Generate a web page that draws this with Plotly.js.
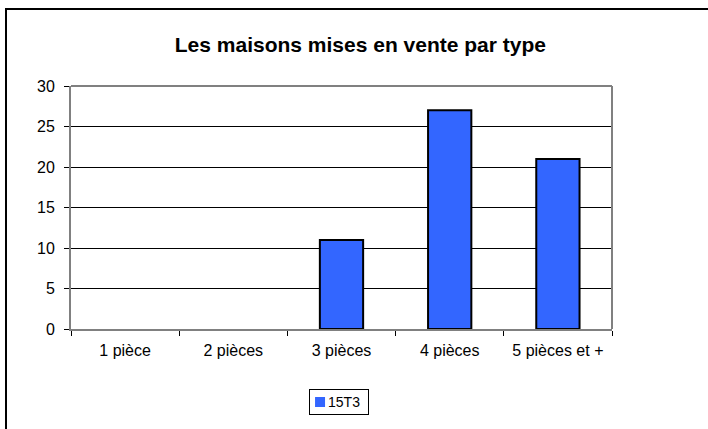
<!DOCTYPE html>
<html>
<head>
<meta charset="utf-8">
<script src="https://cdn.plot.ly/plotly-3.0.1.min.js"></script>
<style>
html,body{margin:0;padding:0;background:#fff;}
#wrap{position:relative;width:708px;height:429px;overflow:hidden;}
#chart{width:708px;height:429px;}
#frame{position:absolute;left:5px;top:8px;width:760px;height:460px;border:2px solid #000;pointer-events:none;box-sizing:border-box;}
</style>
</head>
<body>
<div id="wrap">
<div id="chart"></div>
<div id="frame"></div>
</div>
<script>
const categories = ["1 pièce", "2 pièces", "3 pièces", "4 pièces", "5 pièces et +"];
const values15T3 = [0, 0, 11, 27, 21];
const yTicks = [0, 5, 10, 15, 20, 25, 30];
const seriesName = "15T3";

const trace = {
  type: "bar",
  x: categories,
  y: values15T3,
  name: seriesName,
  width: 0.4,
  marker: {color: "#3366FF", line: {color: "#000", width: values15T3.map(v => v > 0 ? 2 : 0)}},
  showlegend: true,
  hoverinfo: "x+y"
};

const layout = {
  width: 708, height: 429,
  margin: {l: 71, r: 96, t: 86, b: 100, autoexpand: false},
  paper_bgcolor: "#fff",
  plot_bgcolor: "#fff",
  font: {family: "Liberation Sans, Arial, sans-serif", size: 16, color: "#000"},
  title: {text: "<b>Les maisons mises en vente par type</b>", x: 0.509, xanchor: "center", y: 0.895, yanchor: "middle",
          font: {family: "Liberation Sans, Arial, sans-serif", size: 21, color: "#000"}},
  xaxis: {
    type: "category",
    automargin: false,
    tickson: "boundaries",
    ticks: "outside", ticklen: 5, tickcolor: "#000", tickwidth: 1,
    showline: true, linecolor: "#808080", linewidth: 2,
    showgrid: false,
    tickfont: {size: 16},
    ticklabelstandoff: 6,
    fixedrange: true
  },
  yaxis: {
    range: [0, 30],
    automargin: false,
    tickvals: yTicks,
    ticktext: yTicks.map(String),
    ticks: "outside", ticklen: 5, tickcolor: "#000", tickwidth: 1,
    showline: true, linecolor: "#808080", linewidth: 2,
    showgrid: true, gridcolor: "#000", gridwidth: 1,
    zeroline: false,
    tickfont: {size: 16},
    ticklabelstandoff: 6,
    fixedrange: true
  },
  shapes: [
    {type: "line", xref: "paper", yref: "paper", x0: 0, x1: 1, y0: 1, y1: 1, line: {color: "#808080", width: 2}},
    {type: "line", xref: "paper", yref: "paper", x0: 1, x1: 1, y0: 0, y1: 1, line: {color: "#808080", width: 2}}
  ],
  legend: {
    x: 0.44, xanchor: "left", y: -0.247, yanchor: "top",
    orientation: "h",
    bordercolor: "#000", borderwidth: 1,
    bgcolor: "#fff",
    font: {size: 14},
    itemwidth: 30
  }
};

Plotly.newPlot("chart", [trace], layout, {displayModeBar: false, staticPlot: true}).then(gd => {
  // compact the legend box like the reference
  const leg = gd.querySelector("g.legend");
  if (!leg) return;
  const bg = leg.querySelector("rect.bg");
  if (bg) { bg.setAttribute("width", 59); bg.setAttribute("height", 25); bg.setAttribute("x", 0.5); bg.setAttribute("y", 0.5); }
  const tr = leg.querySelector("g.traces");
  if (tr) tr.setAttribute("transform", "translate(0,13)");
  const txt = leg.querySelector("text.legendtext");
  if (txt) txt.setAttribute("x", 19);
  const pts = leg.querySelectorAll("g.legendpoints path");
  pts.forEach(p => { p.setAttribute("d", "M5,5H-5V-5H5Z"); p.setAttribute("transform", "translate(11,0)"); p.style.strokeWidth = "2px"; });
});
</script>
</body>
</html>
